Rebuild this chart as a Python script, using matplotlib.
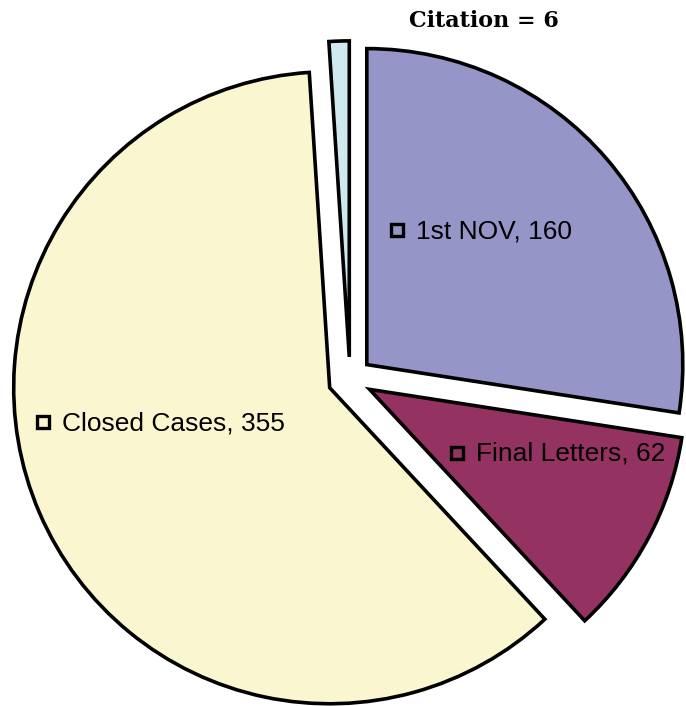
import matplotlib.pyplot as plt

labels = ['1st NOV', 'Final Letters', 'Closed Cases', 'Citation']
values = [160, 62, 355, 6]
colors = ['#9695c8', '#943262', '#faf7d0', '#cfe9ef']
explode = [0.07, 0.07, 0.07, 0.07]

W, H = 686, 706
cx, cy, R = 350, 379, 316  # pie centre and radius in pixels


def px(x, y):
    # pixel position (from top left) -> data coords
    return (x - cx) / R, (cy - y) / R


fig = plt.figure(figsize=(W / 100, H / 100), dpi=100)
ax = fig.add_axes([0, 0, 1, 1])
ax.pie(values, colors=colors, explode=explode, startangle=90, counterclock=False,
       radius=1.0, wedgeprops=dict(edgecolor='black', linewidth=2.6, joinstyle='miter'))
ax.set_xlim(px(0, 0)[0], px(W, 0)[0])
ax.set_ylim(px(0, H)[1], px(0, 0)[1])
ax.set_aspect('equal')
ax.axis('off')

label_pos = {'1st NOV': (397, 230), 'Final Letters': (457, 453), 'Closed Cases': (43, 422)}
for name, v in zip(labels, values):
    if name not in label_pos:
        continue
    x, y = label_pos[name]
    ax.plot(*px(x, y), marker='s', markersize=8.5, mfc='none', mec='black', mew=2.4)
    ax.text(*px(x + 19, y + 1), f'{name}, {v}', fontsize=19, family='Liberation Sans',
            ha='left', va='center')

ax.text(*px(484, 21), f'{labels[3]} = {values[3]}', fontsize=16, fontweight='bold',
        family='DejaVu Serif', ha='center', va='center')

fig.savefig('out.png', dpi=100)
